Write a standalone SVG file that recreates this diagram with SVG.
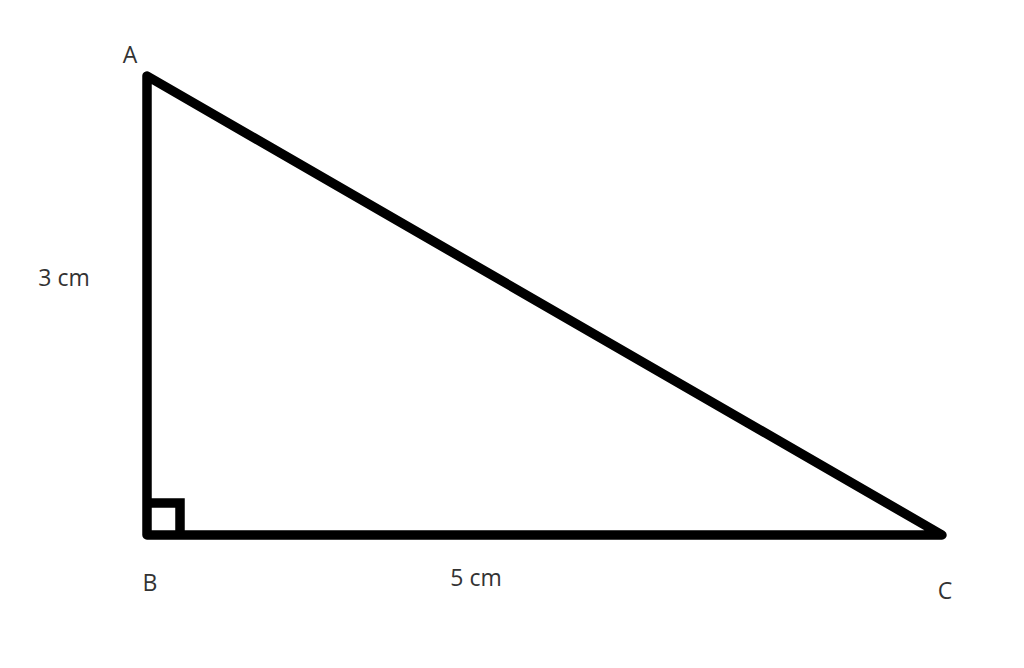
<svg xmlns="http://www.w3.org/2000/svg" width="1024" height="668" viewBox="0 0 1024 668">
<style>
.edge{fill:none;stroke:#000;stroke-width:9.5;stroke-linejoin:round;stroke-linecap:round}
.lbl{font-family:"Open Sans","Liberation Sans",sans-serif;font-size:23px;fill:#333;text-anchor:middle}
</style>
<rect width="1024" height="668" fill="#fff"/>
<g id="connectors">
<path class="edge" d="M147,76 L147,535 L942,535 Z"/>
<path class="edge" style="stroke-linecap:butt;stroke-linejoin:miter" d="M147,503 H180 V535"/>
</g>
<g id="A"><text class="lbl" x="130" y="63">A</text></g>
<g id="B"><text class="lbl" x="150" y="591">B</text></g>
<g id="C"><text class="lbl" x="945" y="599">C</text></g>
<g id="side-ab"><text class="lbl" x="64" y="286">3 cm</text></g>
<g id="side-bc"><text class="lbl" x="476" y="586">5 cm</text></g>
</svg>
